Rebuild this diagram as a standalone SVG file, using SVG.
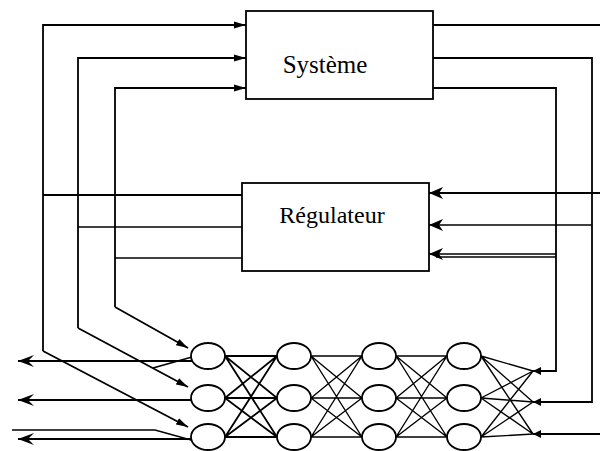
<svg xmlns="http://www.w3.org/2000/svg" width="600" height="451" viewBox="0 0 600 451">
<style>
.box{fill:#fff;stroke:#000;stroke-width:1.8}
.lbl{font-family:"Liberation Serif","Times New Roman",serif;fill:#000;text-anchor:middle}
.neu{fill:#fff;stroke:#000;stroke-width:1.8}
.w{fill:none;stroke:#000;stroke-width:1.8}
.t{fill:none;stroke:#000;stroke-width:1.4}
</style>
<defs>
<marker id="sa" markerUnits="userSpaceOnUse" markerWidth="12" markerHeight="8" refX="12" refY="4" orient="auto">
<path d="M0,0.5 L12,4 L0,7.5 z" fill="#000"/>
</marker>
<marker id="ba" markerUnits="userSpaceOnUse" markerWidth="14" markerHeight="12" refX="14" refY="6" orient="auto">
<path d="M0,0 L14,6 L0,12 L4,6 z" fill="#000"/>
</marker>
<marker id="oa" markerUnits="userSpaceOnUse" markerWidth="16" markerHeight="12" refX="16" refY="6" orient="auto">
<path d="M0,0 L16,6 L0,12 L6,6 z" fill="#000"/>
</marker>
<marker id="ja" markerUnits="userSpaceOnUse" markerWidth="8" markerHeight="8" refX="8" refY="4" orient="auto">
<path d="M0,0 L8,4 L0,8 z" fill="#000"/>
</marker>
</defs>
<g id="connectors">
<path class="w" d="M43,351 V25 H246" marker-end="url(#sa)"/>
<path class="w" d="M78,328 V58 H246" marker-end="url(#sa)"/>
<path class="w" d="M115,307 V88 H246" marker-end="url(#sa)"/>
<path class="w" d="M43,351 L188,427" marker-end="url(#sa)"/>
<path class="w" d="M78,328 L188,387" marker-end="url(#sa)"/>
<path class="w" d="M115,307 L188,348" marker-end="url(#sa)"/>
<path class="w" d="M43,195 H242"/>
<path class="t" d="M78,227 H242"/>
<path class="t" d="M115,258 H242"/>
<path class="w" d="M433,25 H600"/>
<path class="w" d="M433,58 H592 V402 H533" marker-end="url(#ja)"/>
<path class="w" d="M433,88 H556 V371 H533" marker-end="url(#ja)"/>
<path class="w" d="M600,434 H533" marker-end="url(#ja)"/>
<path class="w" d="M600,193 H429" marker-end="url(#ba)"/>
<path class="t" d="M592,225 H429" marker-end="url(#ba)"/>
<path class="t" d="M556,254 H429" marker-end="url(#ba)"/>
<path class="t" d="M556,257 H436"/>
<path class="w" d="M192,361 H18" marker-end="url(#oa)"/>
<path class="w" d="M192,357 L153,368"/>
<path class="w" d="M191,400 H18" marker-end="url(#oa)"/>
<path class="w" d="M191,439 H18" marker-end="url(#oa)"/>
<path class="t" d="M191,440 L155,430 H12"/>
<g class="w">
<path d="M225,356 L277,356 M225,356 L277,398 M225,356 L277,437 M225,398 L277,356 M225,398 L277,398 M225,398 L277,437 M225,437 L277,356 M225,437 L277,398 M225,437 L277,437"/>
</g>
<g class="t">
<path d="M311,356 L362,356 M311,356 L362,398 M311,356 L362,437 M311,398 L362,356 M311,398 L362,398 M311,398 L362,437 M311,437 L362,356 M311,437 L362,398 M311,437 L362,437"/>
<path d="M396,356 L447,356 M396,356 L447,398 M396,356 L447,437 M396,398 L447,356 M396,398 L447,398 M396,398 L447,437 M396,437 L447,356 M396,437 L447,398 M396,437 L447,437"/>
<path d="M481,356 L533,371 M481,356 L533,402 M481,356 L533,434 M481,398 L533,371 M481,398 L533,402 M481,398 L533,434 M481,437 L533,371 M481,437 L533,402 M481,437 L533,434"/>
</g>
</g>
<g id="systeme">
<rect class="box" x="246" y="11" width="187" height="88"/>
<text class="lbl" x="325" y="73" font-size="25">Système</text>
</g>
<g id="regulateur">
<rect class="box" x="242" y="183" width="187" height="88"/>
<text class="lbl" x="332" y="223" font-size="24">Régulateur</text>
</g>
<g id="n11"><ellipse class="neu" cx="208" cy="356" rx="17" ry="13"/></g>
<g id="n12"><ellipse class="neu" cx="208" cy="398" rx="17" ry="13"/></g>
<g id="n13"><ellipse class="neu" cx="208" cy="437" rx="17" ry="13"/></g>
<g id="n21"><ellipse class="neu" cx="294" cy="356" rx="17" ry="13"/></g>
<g id="n22"><ellipse class="neu" cx="294" cy="398" rx="17" ry="13"/></g>
<g id="n23"><ellipse class="neu" cx="294" cy="437" rx="17" ry="13"/></g>
<g id="n31"><ellipse class="neu" cx="379" cy="356" rx="17" ry="13"/></g>
<g id="n32"><ellipse class="neu" cx="379" cy="398" rx="17" ry="13"/></g>
<g id="n33"><ellipse class="neu" cx="379" cy="437" rx="17" ry="13"/></g>
<g id="n41"><ellipse class="neu" cx="464" cy="356" rx="17" ry="13"/></g>
<g id="n42"><ellipse class="neu" cx="464" cy="398" rx="17" ry="13"/></g>
<g id="n43"><ellipse class="neu" cx="464" cy="437" rx="17" ry="13"/></g>
</svg>
